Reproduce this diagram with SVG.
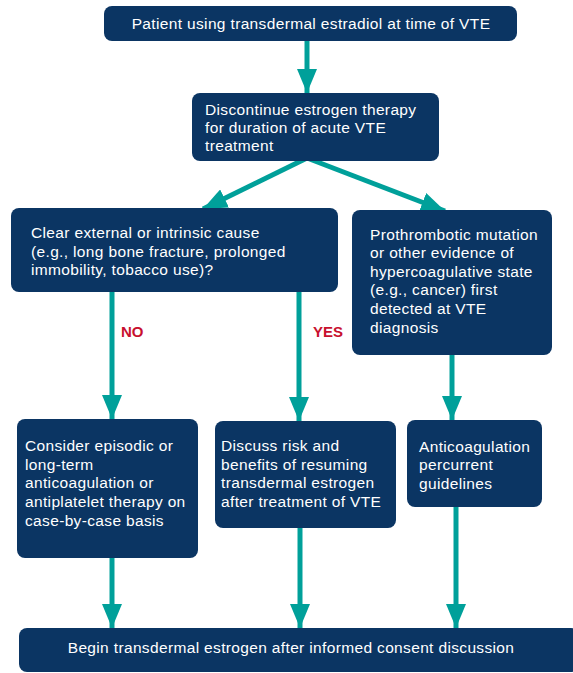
<svg xmlns="http://www.w3.org/2000/svg" width="573" height="673" viewBox="0 0 573 673">
  <style>
    .box { fill: #0b3563; }
    .t { fill: #ffffff; font-family: "Liberation Sans", Arial, sans-serif; font-size: 15.5px; letter-spacing: 0.35px; }
    .lbl { fill: #c8102e; font-family: "Liberation Sans", Arial, sans-serif; font-size: 15px; font-weight: bold; }
    .link { stroke: #00a09a; stroke-width: 5; fill: none; }
  </style>
  <defs>
    <marker id="head" viewBox="0 0 24 20" refX="24" refY="10" markerWidth="24" markerHeight="20" markerUnits="userSpaceOnUse" orient="auto">
      <path d="M0,0 L24,10 L0,20 Z" fill="#00a09a"/>
    </marker>
  </defs>

  <g id="connectors">
    <line class="link" x1="307" y1="41" x2="307" y2="93" marker-end="url(#head)"/>
    <line class="link" x1="307" y1="158" x2="203" y2="209" marker-end="url(#head)"/>
    <line class="link" x1="307" y1="158" x2="445" y2="211" marker-end="url(#head)"/>
    <line class="link" x1="112" y1="290" x2="112" y2="419" marker-end="url(#head)"/>
    <line class="link" x1="299" y1="290" x2="299" y2="421" marker-end="url(#head)"/>
    <line class="link" x1="452" y1="353" x2="452" y2="420" marker-end="url(#head)"/>
    <line class="link" x1="112" y1="556" x2="112" y2="628" marker-end="url(#head)"/>
    <line class="link" x1="300" y1="526" x2="300" y2="628" marker-end="url(#head)"/>
    <line class="link" x1="456" y1="505" x2="456" y2="628" marker-end="url(#head)"/>
    <text class="lbl" x="121" y="337">NO</text>
    <text class="lbl" x="313" y="337">YES</text>
  </g>

  <g id="start">
    <rect class="box" x="104" y="6" width="413" height="35" rx="8"/>
    <text class="t" x="311" y="29" text-anchor="middle">Patient using transdermal estradiol at time of VTE</text>
  </g>

  <g id="discontinue">
    <rect class="box" x="192" y="93" width="247" height="68" rx="8"/>
    <text class="t" x="205" y="115">Discontinue estrogen therapy</text>
    <text class="t" x="205" y="133">for duration of acute VTE</text>
    <text class="t" x="205" y="151">treatment</text>
  </g>

  <g id="cause">
    <rect class="box" x="11" y="208" width="327" height="84" rx="8"/>
    <text class="t" x="31" y="238">Clear external or intrinsic cause</text>
    <text class="t" x="31" y="257">(e.g., long bone fracture, prolonged</text>
    <text class="t" x="31" y="275">immobility, tobacco use)?</text>
  </g>

  <g id="prothrombotic">
    <rect class="box" x="352" y="210" width="200" height="145" rx="8"/>
    <text class="t" x="370" y="240">Prothrombotic mutation</text>
    <text class="t" x="370" y="258">or other evidence of</text>
    <text class="t" x="370" y="277">hypercoagulative state</text>
    <text class="t" x="370" y="295">(e.g., cancer) first</text>
    <text class="t" x="370" y="314">detected at VTE</text>
    <text class="t" x="370" y="333">diagnosis</text>
  </g>

  <g id="consider">
    <rect class="box" x="17" y="419" width="181" height="139" rx="8"/>
    <text class="t" x="25" y="451">Consider episodic or</text>
    <text class="t" x="25" y="470">long-term</text>
    <text class="t" x="25" y="488">anticoagulation or</text>
    <text class="t" x="25" y="507">antiplatelet therapy on</text>
    <text class="t" x="25" y="526">case-by-case basis</text>
  </g>

  <g id="discuss">
    <rect class="box" x="215" y="421" width="181" height="107" rx="8"/>
    <text class="t" x="221" y="451">Discuss risk and</text>
    <text class="t" x="221" y="470">benefits of resuming</text>
    <text class="t" x="221" y="488">transdermal estrogen</text>
    <text class="t" x="221" y="507">after treatment of VTE</text>
  </g>

  <g id="anticoagulation">
    <rect class="box" x="407" y="420" width="135" height="87" rx="8"/>
    <text class="t" x="419" y="452">Anticoagulation</text>
    <text class="t" x="419" y="470">percurrent</text>
    <text class="t" x="419" y="489">guidelines</text>
  </g>

  <g id="begin">
    <rect class="box" x="19" y="628" width="560" height="44" rx="8"/>
    <text class="t" x="291" y="653" text-anchor="middle">Begin transdermal estrogen after informed consent discussion</text>
  </g>
</svg>
